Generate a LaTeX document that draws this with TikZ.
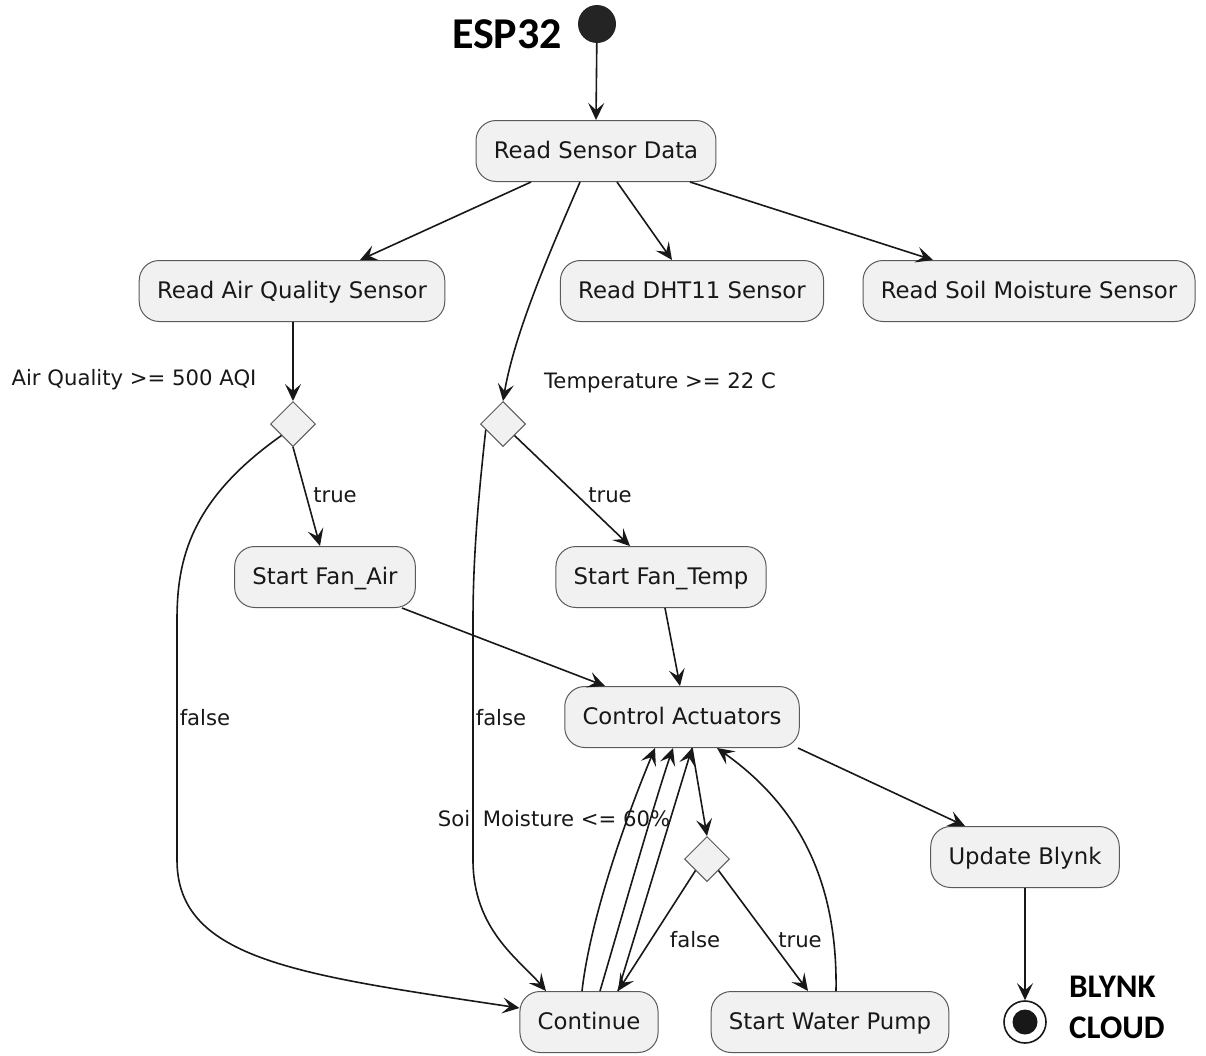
\documentclass[tikz,border=0pt]{standalone}
\usepackage{fontspec}
\setmainfont{DejaVu Sans}
\newfontfamily\titlefont{Carlito}
\usetikzlibrary{arrows.meta,shapes.geometric,calc}
\definecolor{boxfill}{HTML}{F1F1F1}
\definecolor{boxline}{HTML}{5A5A5A}
\definecolor{ink}{HTML}{181818}
\begin{document}
\begin{tikzpicture}[x=1pt,y=-1pt,
  box/.style={draw=boxline, fill=boxfill, line width=1pt, rounded corners=20pt,
    minimum height=61pt, inner xsep=17.8pt, inner ysep=0pt,
    text height=18pt, text depth=4pt,
    font=\fontsize{22.8}{26}\selectfont, text=ink},
  dec/.style={draw=boxline, fill=boxfill, line width=1pt, diamond, inner sep=0pt,
    minimum width=45pt, minimum height=45pt},
  lbl/.style={font=\fontsize{21.2}{24}\selectfont, text=ink, inner sep=0pt},
  ttl/.style={font=\titlefont\bfseries, text=black, inner sep=0pt},
  arr/.style={draw=ink, line width=1.6pt, -{Stealth[length=17pt,width=16pt,inset=7pt]}},
  ln/.style={draw=ink, line width=1.6pt}
]
\useasboundingbox (0,0) rectangle (1206,1055);

% title and start
\node[ttl, font=\titlefont\bfseries\fontsize{44}{48}\selectfont] (esp) at (507,34) {ESP32};
\node[circle, fill=ink!95, minimum size=38pt, inner sep=0pt] (start) at (597,24) {};

% boxes
\node[box] (rsd) at (596,151) {Read Sensor Data};
\node[box] (raqs) at (292,291) {Read Air Quality Sensor};
\node[box] (dht) at (692,291) {Read DHT11 Sensor};
\node[box] (soil) at (1029,291) {Read Soil Moisture Sensor};
\node[dec] (d1) at (293,424) {};
\node[dec] (d2) at (503,424) {};
\node[box] (fanair) at (325,577) {Start Fan\_Air};
\node[box] (fantemp) at (661,577) {Start Fan\_Temp};
\node[box] (ca) at (682,717) {Control Actuators};
\node[dec] (d3) at (707,859) {};
\node[box] (blynk) at (1025,857) {Update Blynk};
\node[box] (cont) at (589,1022) {Continue};
\node[box] (pump) at (830,1022) {Start Water Pump};

% end
\node[circle, draw=ink, line width=1.6pt, fill=white, minimum size=42pt, inner sep=0pt] (endc) at (1025,1022) {};
\node[circle, fill=ink, minimum size=25pt, inner sep=0pt] (endin) at (1025,1022) {};
\node[ttl, anchor=west, font=\titlefont\bfseries\fontsize{33}{36}\selectfont] (blk) at (1069,987) {BLYNK};
\node[ttl, anchor=west, font=\titlefont\bfseries\fontsize{33}{36}\selectfont] (cld) at (1069,1028) {CLOUD};

% labels
\node[lbl] (laq) at (134,380) {Air Quality >= 500 AQI};
\node[lbl] (ltemp) at (660,383) {Temperature >= 22 C};
\node[lbl] (lt1) at (335,495) {true};
\node[lbl] (lt2) at (610,495) {true};
\node[lbl] (lf1) at (205,718) {false};
\node[lbl] (lf2) at (501,718) {false};
\node[lbl] (lsoil) at (554,819) {Soil Moisture <= 60\%};
\node[lbl] (lf3) at (695,940) {false};
\node[lbl] (lt3) at (800,940) {true};

% connectors
\draw[arr] (start) -- (rsd.north);
\draw[arr] ([xshift=-65pt]rsd.south) -- ([xshift=68pt]raqs.north);
\draw[arr] ([xshift=-16pt]rsd.south) .. controls (555,240) and (515,330) .. (d2.north);
\draw[arr] ([xshift=21pt]rsd.south) -- ([xshift=-20pt]dht.north);
\draw[arr] ([xshift=94pt]rsd.south) -- ([xshift=-96pt]soil.north);
\draw[arr] (raqs.south -| d1.north) -- (d1.north);
\draw[arr] (d1.south) -- ([xshift=-5pt]fanair.north);
\draw[arr] ($(d1.south)!0.5!(d1.west)$) .. controls (190,500) and (177,560) .. (177,620)
   -- (177,860) .. controls (177,960) and (300,975) .. ([yshift=14pt]cont.west);
\draw[arr] ($(d2.south)!0.5!(d2.east)$) -- ([xshift=-31pt]fantemp.north);
\draw[arr] ($(d2.south)!0.75!(d2.west)$) .. controls (478,500) and (473,560) .. (473,620)
   -- (473,860) .. controls (473,930) and (520,960) .. ([xshift=-43pt]cont.north);
\draw[arr] ([xshift=77pt]fanair.south) -- ([xshift=-77pt]ca.north);
\draw[arr] ([xshift=4pt]fantemp.south) -- ([xshift=-2pt]ca.north);
\draw[arr] ([xshift=116pt]ca.south) -- ([xshift=-60pt]blynk.north);
\draw[arr] (blynk.south) -- (endc.north);
\draw[arr] ([xshift=10pt]ca.south) -- (d3.north);
\draw[arr] ([xshift=-7pt]cont.north) .. controls (590,920) and (625,820) .. ([xshift=-27pt]ca.south);
\draw[arr] ([xshift=11pt]cont.north) .. controls (618,930) and (655,800) .. ([xshift=-9pt]ca.south);
\draw[arr] ([xshift=29pt]cont.north) -- ([xshift=10pt]ca.south);
\draw[arr] ($(d3.south)!0.5!(d3.west)$) -- ([xshift=29pt]cont.north);
\draw[arr] ($(d3.south)!0.5!(d3.east)$) -- ([xshift=-22pt]pump.north);
\draw[arr] ([xshift=6pt]pump.north) .. controls (838,870) and (790,800) .. ([xshift=35pt]ca.south);
\end{tikzpicture}
\end{document}
